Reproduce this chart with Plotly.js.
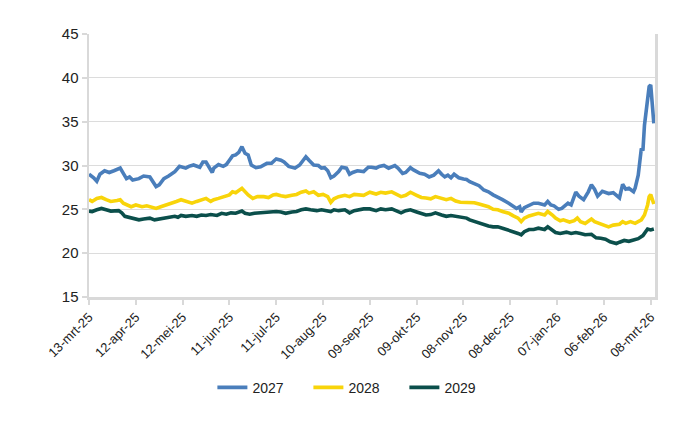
<!DOCTYPE html>
<html>
<head>
<meta charset="utf-8">
<script src="https://cdn.plot.ly/plotly-3.0.1.min.js"></script>
<style>html,body{margin:0;padding:0;background:#fff;}#chart{width:700px;height:430px;}</style>
</head>
<body>
<div id="chart"></div>
<script>
// Base date of the series (13-mrt-25); offsets are days since this date
const baseDate = [2025, 2, 13];

const days2027 = [0,3,5,7,10,13,16,20,22,24,26,28,32,35,39,41,43,45,48,51,55,58,62,64,67,71,73,75,77,79,80,83,86,88,90,92,94,96,98,100,102,104,107,110,114,117,119,120,123,125,128,132,135,137,139,141,142,144,147,149,151,153,155,157,160,162,165,167,169,172,176,179,181,184,186,189,192,194,196,198,201,203,206,208,212,215,218,221,224,226,228,230,232,234,237,240,242,244,247,250,253,256,259,262,265,269,272,274,276,277,279,282,285,288,292,294,296,298,301,303,307,309,312,314,317,320,322,324,326,329,333,336,338,340,342,344,346,349,350,352,354,355,356,358,359,360,362];
const vals2027 = [29.0,28.6,28.2,29.0,29.4,29.2,29.4,29.7,29.1,28.5,28.7,28.35,28.5,28.8,28.7,28.2,27.6,27.8,28.5,28.8,29.3,29.9,29.7,29.9,30.06,29.8,30.4,30.4,29.7,29.2,29.7,30.1,29.9,30.1,30.6,31.1,31.2,31.5,32.15,31.4,31.2,30.06,29.75,29.85,30.25,30.25,30.6,30.75,30.6,30.4,29.9,29.7,30.06,30.6,31.0,30.6,30.4,30.06,30.0,29.7,29.75,29.4,28.6,28.8,29.3,29.8,29.7,29.0,29.2,29.4,29.3,29.8,29.8,29.7,29.9,30.0,29.7,29.9,30.0,29.7,29.1,29.2,29.75,29.5,29.1,29.0,28.7,28.9,29.4,29.0,28.7,28.9,28.6,29.0,28.6,28.45,28.4,28.15,27.95,27.7,27.2,27.0,26.65,26.4,26.1,25.7,25.3,25.1,25.3,24.7,25.2,25.5,25.7,25.7,25.5,25.9,25.5,25.4,25.0,25.1,25.7,25.5,26.95,26.5,26.1,27.0,27.8,27.3,26.5,27.05,26.8,26.9,26.6,26.3,27.85,27.3,27.4,27.0,27.4,28.9,31.95,31.7,34.6,37.3,39.0,39.2,34.8];

const days2028 = [0,2,5,8,11,14,18,20,22,24,27,30,34,37,40,43,46,50,53,56,59,62,66,69,72,75,78,80,83,87,90,92,94,98,100,102,105,108,112,115,118,120,123,126,130,133,136,139,141,144,147,150,153,155,157,160,164,167,170,173,176,180,184,187,190,194,197,200,203,206,210,213,216,219,222,226,229,232,235,238,242,244,247,250,253,256,259,262,265,269,272,275,277,279,282,285,288,292,294,297,299,302,304,308,311,313,315,318,322,324,327,330,333,336,340,342,344,347,350,354,356,358,359,360,362];
const vals2028 = [26.1,25.9,26.25,26.35,26.1,25.9,26.0,26.1,25.7,25.5,25.3,25.5,25.3,25.4,25.2,25.1,25.3,25.5,25.7,25.9,26.1,25.9,25.7,25.9,26.1,26.25,25.9,26.1,26.25,26.45,26.65,27.0,26.9,27.4,27.0,26.65,26.25,26.45,26.45,26.35,26.65,26.7,26.55,26.45,26.6,26.7,26.95,27.1,26.85,27.0,26.6,26.7,26.45,25.8,26.2,26.45,26.6,26.45,26.7,26.7,26.6,26.95,26.75,26.95,26.85,27.0,26.75,26.45,26.6,26.95,26.6,26.35,26.3,26.2,26.45,26.2,26.1,26.25,25.95,25.8,25.8,25.7,25.75,25.6,25.5,25.3,25.0,24.95,24.75,24.55,24.25,24.0,23.6,24.0,24.25,24.35,24.55,24.35,24.75,24.35,24.0,23.7,23.8,23.55,23.7,24.0,23.6,23.4,23.9,23.6,23.4,23.2,23.0,23.2,23.3,23.6,23.4,23.6,23.4,23.8,24.35,25.5,26.45,26.7,25.6];

const days2029 = [0,2,5,8,11,14,19,21,23,26,29,32,35,39,42,45,48,51,55,57,59,62,66,69,72,75,78,82,85,88,91,94,98,100,103,106,109,112,116,119,120,123,126,130,133,136,139,142,146,149,152,155,157,160,164,167,170,173,176,180,184,187,190,194,197,200,203,206,210,213,216,219,222,226,229,232,235,238,242,244,247,250,253,256,259,262,265,269,272,275,277,279,282,285,288,292,294,297,299,302,306,309,312,315,318,322,325,328,331,334,338,340,343,346,349,352,355,357,358,360,362];
const vals2029 = [24.8,24.75,24.95,25.1,24.95,24.8,24.85,24.6,24.2,24.05,23.95,23.8,23.9,24.0,23.8,23.9,23.95,24.0,24.2,24.1,24.3,24.2,24.3,24.2,24.35,24.3,24.4,24.3,24.55,24.45,24.6,24.55,24.8,24.55,24.45,24.55,24.6,24.6,24.7,24.8,24.75,24.7,24.55,24.7,24.75,24.95,25.05,24.95,24.85,24.95,24.85,24.75,24.95,24.85,24.95,24.6,24.85,24.95,25.05,25.05,24.85,25.05,24.95,25.05,24.85,24.6,24.85,24.95,24.7,24.55,24.35,24.4,24.6,24.35,24.2,24.3,24.2,24.05,24.0,23.8,23.6,23.5,23.2,23.1,23.0,23.0,22.85,22.65,22.45,22.25,22.1,22.45,22.7,22.7,22.85,22.7,23.0,22.65,22.35,22.25,22.4,22.25,22.35,22.25,22.1,22.15,21.75,21.7,21.6,21.3,21.1,21.25,21.45,21.35,21.55,21.65,22.0,22.4,22.75,22.65,22.75];

const tickDays = [0,30,60,90,120,150,180,210,240,270,300,330,360];
const tickLabels = ["13-mrt-25","12-apr-25","12-mei-25","11-jun-25","11-jul-25","10-aug-25","09-sep-25","09-okt-25","08-nov-25","08-dec-25","07-jan-26","06-feb-26","08-mrt-26"];
const seriesNames = ["2027","2028","2029"];
const seriesColors = ["#4a7ebb","#f8d40a","#0b4f4b"];

function toDate(d){
  const t = new Date(Date.UTC(baseDate[0], baseDate[1], baseDate[2] + d));
  return t.toISOString().slice(0,10);
}

const allDays = [days2027, days2028, days2029];
const allVals = [vals2027, vals2028, vals2029];

const traces = seriesNames.map((n,i)=>({
  x: allDays[i].map(toDate),
  y: allVals[i],
  name: n,
  type: 'scatter',
  mode: 'lines',
  line: {color: seriesColors[i], width: 3.6}
}));

const font = "Liberation Sans, Arial, sans-serif";
const layout = {
  width: 700, height: 430,
  margin: {l: 89, r: 45, t: 34, b: 133},
  paper_bgcolor: '#fff', plot_bgcolor: '#fff',
  font: {family: font, color: '#222', size: 14},
  showlegend: true,
  legend: {orientation: 'h', x: 0.218, xanchor: 'left', y: -0.345, yanchor: 'middle',
           entrywidth: 51, entrywidthmode: 'pixels',
           font: {family: font, size: 14, color: '#222'}, itemwidth: 30, tracegroupgap: 0},
  xaxis: {
    type: 'date',
    range: ['2025-03-13', '2026-03-10 18:00'],
    tickvals: tickDays.map(toDate),
    ticktext: tickLabels,
    tickangle: -45,
    tickfont: {family: font, size: 13, color: '#222'},
    showgrid: false,
    showline: true, linecolor: '#d9d9d9', linewidth: 2.5,
    ticks: 'outside', ticklen: 5, tickwidth: 2, tickcolor: '#d9d9d9',
    zeroline: false
  },
  yaxis: {
    range: [15, 45],
    tickvals: [15,20,25,30,35,40,45],
    tickfont: {family: font, size: 15, color: '#222'},
    showgrid: true, gridcolor: '#dcdcdc', gridwidth: 1,
    showline: true, mirror: true, linecolor: '#d9d9d9', linewidth: 2.5,
    ticks: 'outside', ticklen: 5, tickwidth: 2, tickcolor: '#d9d9d9',
    zeroline: false
  }
};

Plotly.newPlot('chart', traces, layout, {displayModeBar: false, staticPlot: true});
</script>
</body>
</html>
